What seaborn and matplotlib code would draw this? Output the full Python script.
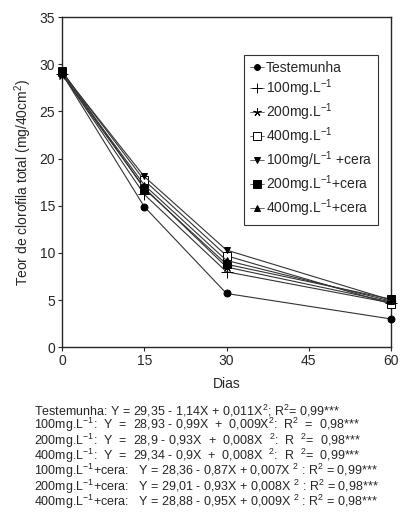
import matplotlib
matplotlib.use("Agg")
import matplotlib.pyplot as plt
import seaborn as sns
import pandas as pd

# dados
dias = [0, 15, 30, 60]
testemunha = [29.0, 14.9, 5.7, 3.0]
mg100 = [29.0, 16.2, 8.0, 4.7]
mg200 = [28.9, 16.9, 8.5, 4.8]
mg400 = [29.2, 17.7, 9.7, 4.6]
mg100_cera = [29.1, 18.1, 10.3, 5.0]
mg200_cera = [29.3, 16.8, 8.8, 5.1]
mg400_cera = [29.0, 17.2, 9.2, 4.9]

rotulos = ["Testemunha", "100mg.L$^{-1}$", "200mg.L$^{-1}$", "400mg.L$^{-1}$",
           "100mg/L$^{-1}$ +cera", "200mg.L$^{-1}$+cera", "400mg.L$^{-1}$+cera"]
marcadores = ["o", "+", (5, 2, 0), "s", "v", "s", "^"]

equacoes = [
    "Testemunha: Y = 29,35 - 1,14X + 0,011X$^2$; R$^2$= 0,99***",
    "100mg.L$^{-1}$:  Y  =  28,93 - 0,99X  +  0,009X$^2$:  R$^2$  =  0,98***",
    "200mg.L$^{-1}$:  Y  =  28,9 - 0,93X  +  0,008X  $^2$:  R  $^2$=  0,98***",
    "400mg.L$^{-1}$:  Y  =  29,34 - 0,9X  +  0,008X  $^2$:  R  $^2$=  0,99***",
    "100mg.L$^{-1}$+cera:   Y = 28,36 - 0,87X + 0,007X $^2$ : R$^2$ = 0,99***",
    "200mg.L$^{-1}$+cera:   Y = 29,01 - 0,93X + 0,008X $^2$ : R$^2$ = 0,98***",
    "400mg.L$^{-1}$+cera:   Y = 28,88 - 0,95X + 0,009X $^2$ : R$^2$ = 0,98***",
]

sns.set_style("ticks")
plt.rcParams["font.family"] = ["Liberation Sans", "DejaVu Sans"]
plt.rcParams["mathtext.default"] = "regular"

series = [testemunha, mg100, mg200, mg400, mg100_cera, mg200_cera, mg400_cera]

fig = plt.figure(figsize=(4.0, 5.16), dpi=100)
ax = fig.add_axes([0.155, 0.327, 0.8225, 0.64])

for vals, lab, mk in zip(series, rotulos, marcadores):
    df = pd.DataFrame({"Dias": dias, "valor": vals})
    face = "white" if lab == "400mg.L$^{-1}$" else "black"
    size = 5
    if mk == "+":
        size = 8
    if mk == (5, 2, 0):
        size = 7
    if mk == "s":
        size = 6
    sns.lineplot(data=df, x="Dias", y="valor", ax=ax, color="#333333", lw=0.8,
                 marker=mk, markersize=size, markerfacecolor=face,
                 markeredgecolor="black", markeredgewidth=0.7,
                 label=lab, clip_on=False, zorder=3)

ax.set_xlim(0, 60)
ax.set_ylim(0, 35)
ax.set_xticks([0, 15, 30, 45, 60])
ax.set_yticks(range(0, 36, 5))
ax.tick_params(labelsize=10, length=3, width=0.8, direction="out", pad=2)
for s in ax.spines.values():
    s.set_linewidth(1.0)
ax.set_xlabel("Dias", fontsize=10, labelpad=6)
ax.set_ylabel("Teor de clorofila total (mg/40cm$^2$)", fontsize=10, labelpad=4)

leg = ax.legend(loc="upper right", bbox_to_anchor=(0.96, 0.885), fontsize=10,
                frameon=True, fancybox=False, edgecolor="black",
                handlelength=1.0, handletextpad=0.15, labelspacing=0.18,
                borderpad=0.4, borderaxespad=0, markerscale=0.85)
leg.get_frame().set_linewidth(0.8)
for h in leg.get_lines():
    h.set_linewidth(0.5)

fig.text(0.085, 0.219, "\n".join(equacoes), fontsize=9.0, va="top", ha="left",
         linespacing=0.78)

fig.savefig("out.png", dpi=100)
